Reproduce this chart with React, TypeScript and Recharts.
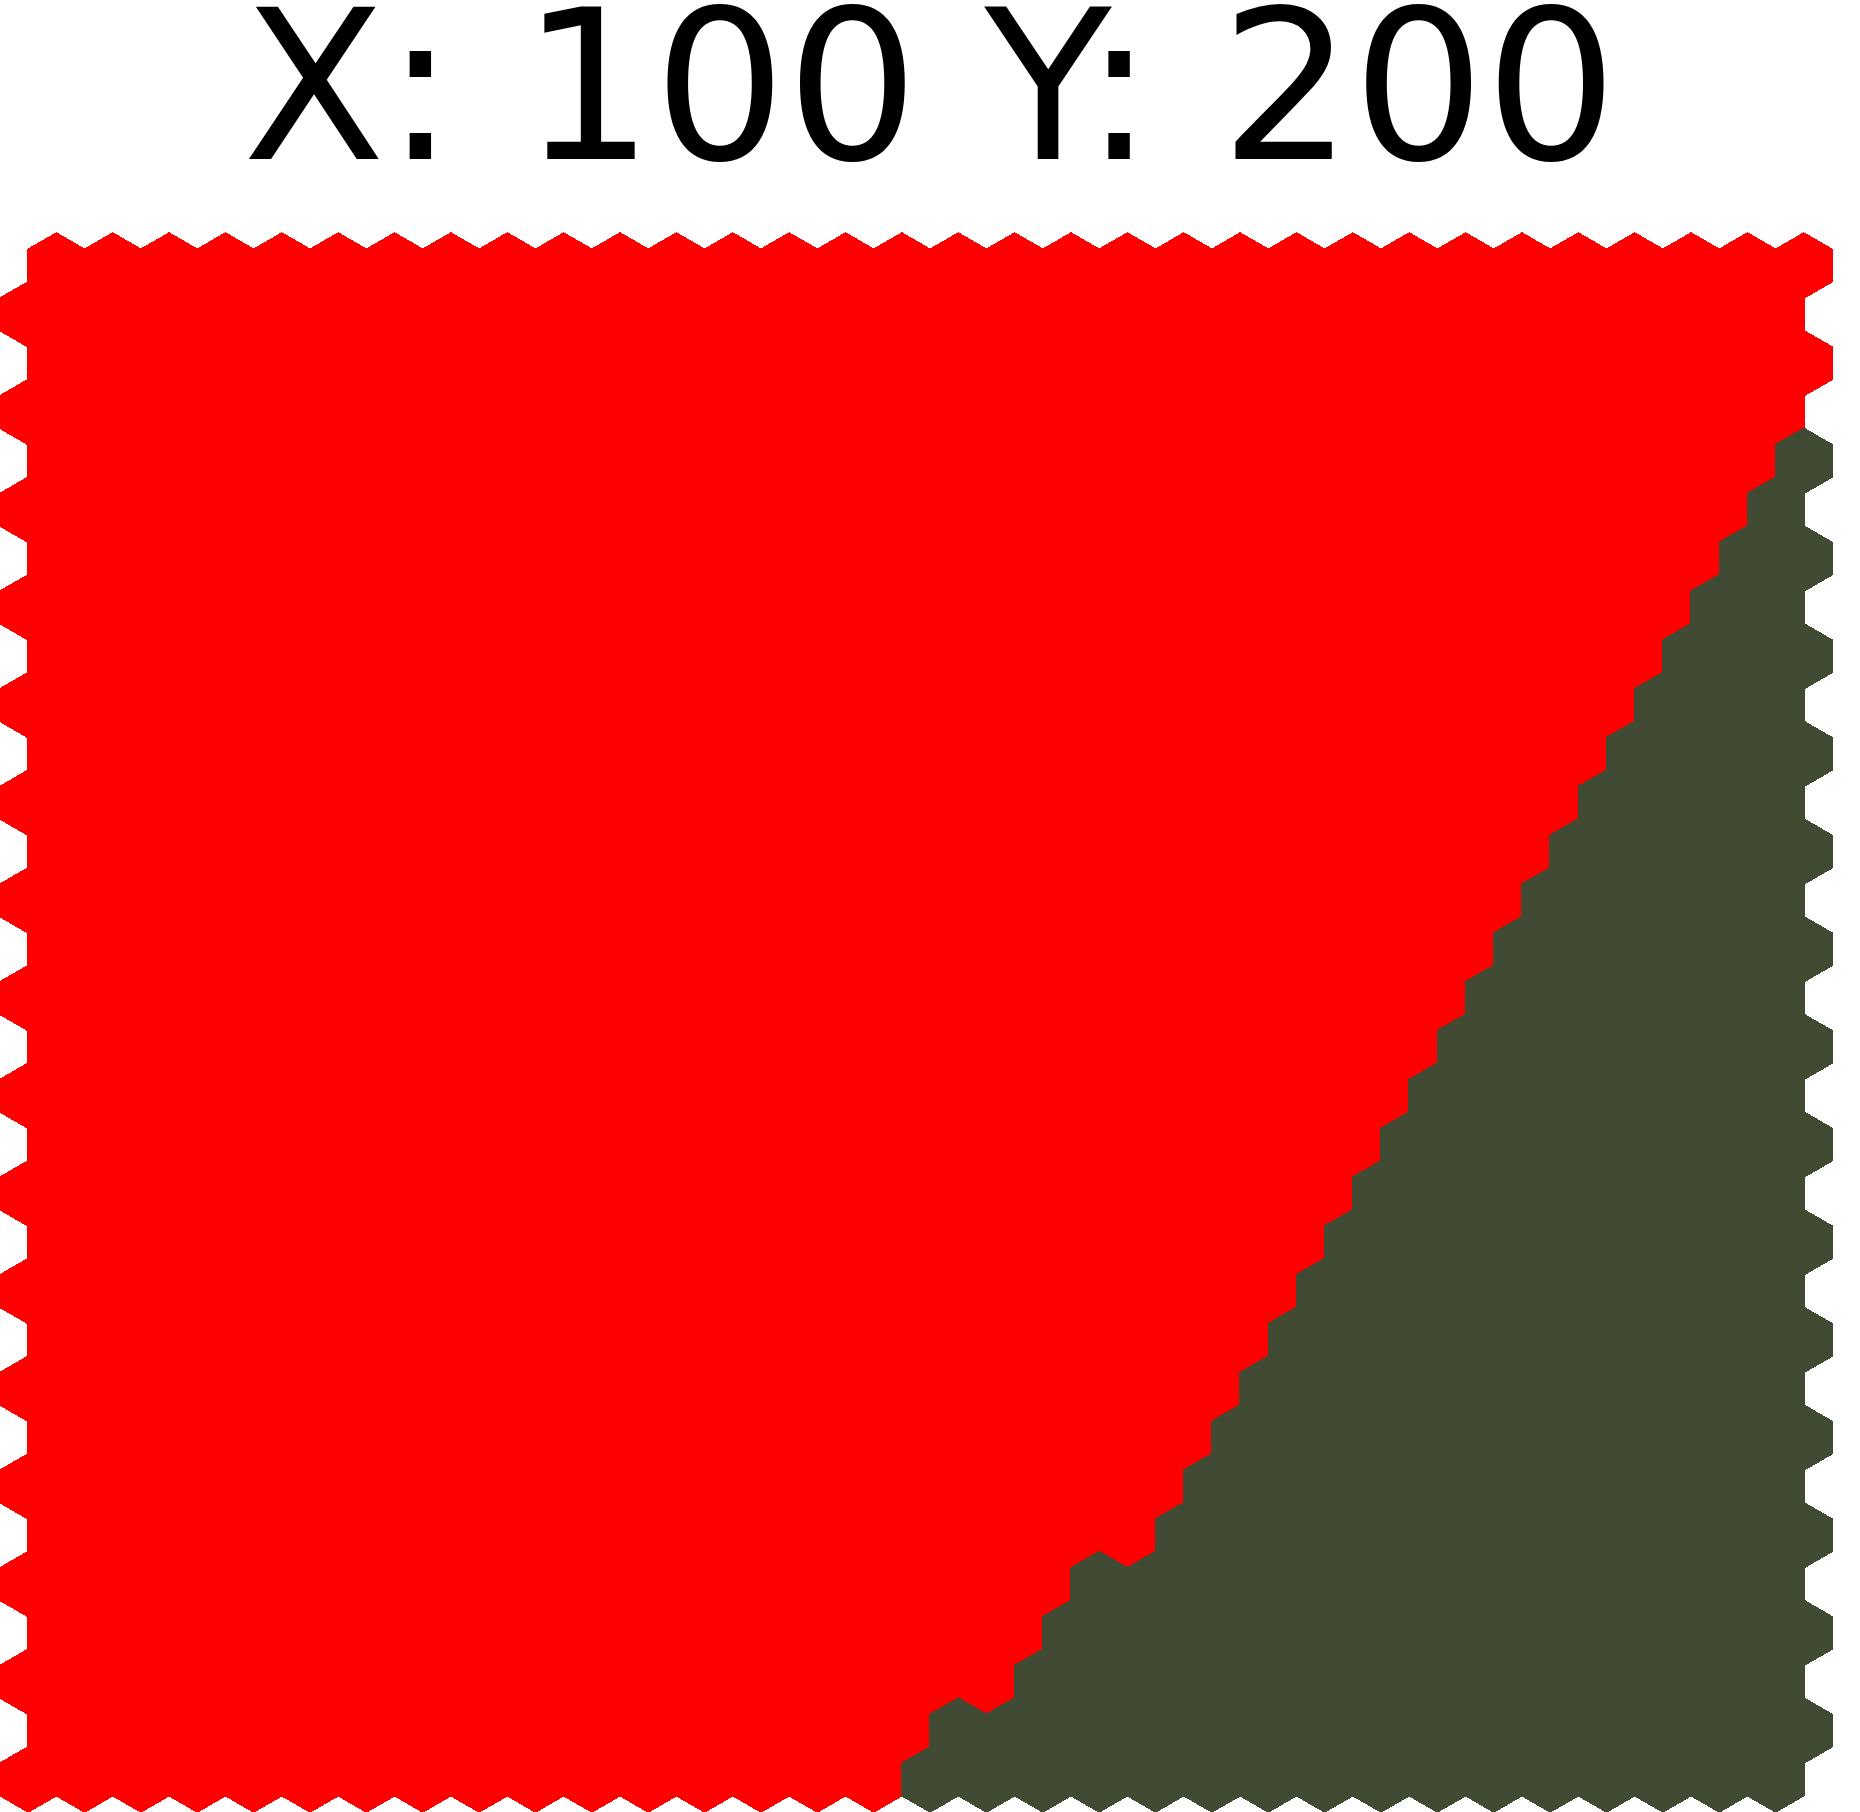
import { Scatter, ScatterChart, XAxis, YAxis } from "recharts";

const TITLE = "X: 100 Y: 200";

const ROW_COUNT = 32;
const COL_COUNT = 32;

// how many dark cells sit at the right end of each row, top row first
const DARK_PER_ROW = [
  0, 0, 0, 0, 1, 1, 2, 2, 3, 3, 4, 4, 5, 5, 6, 6, 7, 7, 8, 8, 9, 9, 10, 10, 11,
  11, 12, 13, 14, 14, 16, 16,
];

const FILL = {
  light: "#ff0000",
  dark: "#414a33",
};

const WIDTH = 1860;
const HEIGHT = 1812;
const MARGIN = { top: 233, right: 28, bottom: 0, left: 0 };

const X_DOMAIN: [number, number] = [-0.5, COL_COUNT];
const Y_DOMAIN: [number, number] = [-2 / 3, ROW_COUNT - 1 + 2 / 3];

// hexagon radius follows from the width of one column on the x scale
const COL_PX =
  (WIDTH - MARGIN.left - MARGIN.right) / (X_DOMAIN[1] - X_DOMAIN[0]);
const HEX_R = COL_PX / Math.sqrt(3);

type Cell = { x: number; y: number; kind: "light" | "dark" };

const cells: Cell[] = [];
for (let row = 0; row < ROW_COUNT; row++) {
  for (let col = 0; col < COL_COUNT; col++) {
    cells.push({
      x: col + (row % 2 === 0 ? 0.5 : 0),
      y: row,
      kind: col >= COL_COUNT - DARK_PER_ROW[row] ? "dark" : "light",
    });
  }
}

function Hexagon(props: any) {
  const { cx, cy, payload } = props;
  if (cx == null || cy == null) return null;
  const pts = [];
  for (let k = 0; k < 6; k++) {
    const a = ((-90 + 60 * k) * Math.PI) / 180;
    pts.push(`${cx + HEX_R * Math.cos(a)},${cy + HEX_R * Math.sin(a)}`);
  }
  const color = FILL[payload.kind as "light" | "dark"];
  return (
    <polygon
      points={pts.join(" ")}
      fill={color}
      stroke={color}
      strokeWidth={1.5}
      strokeLinejoin="round"
      shapeRendering="crispEdges"
    />
  );
}

export default function App() {
  return (
    <div
      style={{
        position: "absolute",
        left: 0,
        top: 0,
        width: WIDTH,
        height: HEIGHT,
        background: "#fff",
      }}
    >
      <ScatterChart width={WIDTH} height={HEIGHT} margin={MARGIN}>
        <XAxis type="number" dataKey="x" domain={X_DOMAIN} hide />
        <YAxis type="number" dataKey="y" domain={Y_DOMAIN} reversed hide />
        <Scatter data={cells} shape={Hexagon} isAnimationActive={false} />
      </ScatterChart>
      <svg
        width={WIDTH}
        height={MARGIN.top}
        style={{ position: "absolute", left: 0, top: 0, overflow: "visible" }}
      >
        <text
          x={WIDTH / 2}
          y={159}
          textAnchor="middle"
          fontFamily="DejaVu Sans"
          fontSize={208}
          fill="#000"
        >
          {TITLE}
        </text>
      </svg>
    </div>
  );
}
